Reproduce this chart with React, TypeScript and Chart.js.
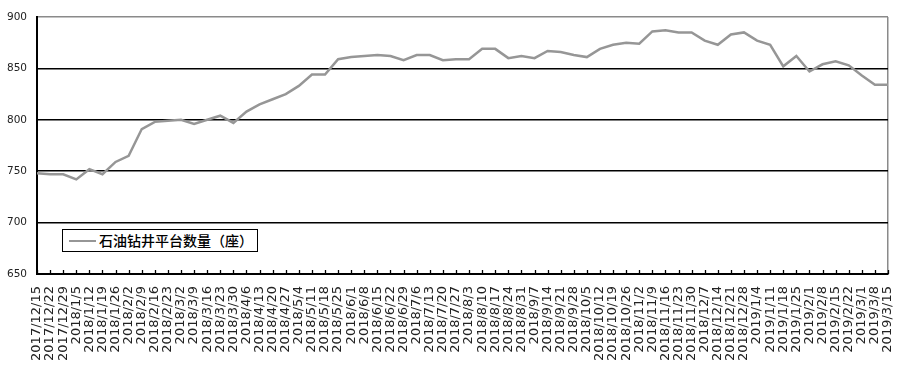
import React, { useEffect, useRef } from "react";
import { Chart, registerables } from "chart.js";

Chart.register(...registerables);

const dateLabels: string[] = [
  "2017/12/15", "2017/12/22", "2017/12/29", "2018/1/5", "2018/1/12", "2018/1/19", "2018/1/26",
  "2018/2/2", "2018/2/9", "2018/2/16", "2018/2/23", "2018/3/2", "2018/3/9", "2018/3/16",
  "2018/3/23", "2018/3/30", "2018/4/6", "2018/4/13", "2018/4/20", "2018/4/27", "2018/5/4",
  "2018/5/11", "2018/5/18", "2018/5/25", "2018/6/1", "2018/6/8", "2018/6/15", "2018/6/22",
  "2018/6/29", "2018/7/6", "2018/7/13", "2018/7/20", "2018/7/27", "2018/8/3", "2018/8/10",
  "2018/8/17", "2018/8/24", "2018/8/31", "2018/9/7", "2018/9/14", "2018/9/21", "2018/9/28",
  "2018/10/5", "2018/10/12", "2018/10/19", "2018/10/26", "2018/11/2", "2018/11/9", "2018/11/16",
  "2018/11/23", "2018/11/30", "2018/12/7", "2018/12/14", "2018/12/21", "2018/12/28", "2019/1/4",
  "2019/1/11", "2019/1/18", "2019/1/25", "2019/2/1", "2019/2/8", "2019/2/15", "2019/2/22",
  "2019/3/1", "2019/3/8", "2019/3/15",
];

const rigCounts: number[] = [
  748, 747, 747, 742, 752, 747, 759,
  765, 791, 798, 799, 800, 796, 800,
  804, 797, 808, 815, 820, 825, 833,
  844, 844, 859, 861, 862, 863, 862,
  858, 863, 863, 858, 859, 859, 869,
  869, 860, 862, 860, 867, 866, 863,
  861, 869, 873, 875, 874, 886, 887,
  885, 885, 877, 873, 883, 885, 877,
  873, 852, 862, 847, 854, 857, 853,
  843, 834, 834,
];

const seriesName = "石油钻井平台数量（座）";
const yMin = 650;
const yMax = 900;
const yStep = 50;

const innerTicks = {
  id: "innerTicks",
  afterDraw(chart: any) {
    const xs = chart.scales.x;
    const ctx = chart.ctx;
    const bottom = chart.chartArea.bottom;
    ctx.save();
    ctx.strokeStyle = "#000";
    ctx.lineWidth = 1.3;
    xs.ticks.forEach((_t: any, i: number) => {
      const px = Math.round(xs.getPixelForTick(i)) + 0.5;
      ctx.beginPath();
      ctx.moveTo(px, bottom);
      ctx.lineTo(px, bottom - 4);
      ctx.stroke();
    });
    ctx.restore();
  },
};

export default function App() {
  const ref = useRef<HTMLCanvasElement | null>(null);

  useEffect(() => {
    if (!ref.current) return;
    const lastIdx = dateLabels.length - 1;
    const chart = new Chart(ref.current, {
      type: "line",
      data: {
        labels: dateLabels,
        datasets: [
          {
            label: seriesName,
            data: rigCounts,
            borderColor: "#969696",
            borderWidth: 2.5,
            pointRadius: 0,
            tension: 0,
            fill: false,
          },
        ],
      },
      options: {
        animation: false,
        responsive: true,
        maintainAspectRatio: false,
        layout: { padding: { top: 17, right: 12, bottom: 0, left: 0 } },
        plugins: {
          legend: { display: false },
          tooltip: { enabled: false },
        },
        scales: {
          x: {
            offset: false,
            afterFit: (s: any) => {
              s.height = 97;
              s.paddingLeft = 0;
              s.paddingRight = 0;
            },
            grid: {
              drawTicks: false,
              drawOnChartArea: true,
              color: (c: any) => (c.index === lastIdx ? "#8a8a8a" : "rgba(0,0,0,0)"),
              lineWidth: 1.5,
            },
            border: { display: true, color: "#000", width: 2 },
            ticks: {
              autoSkip: false,
              minRotation: 90,
              maxRotation: 90,
              padding: 12,
              color: "#222",
              font: { family: "'DejaVu Sans', sans-serif", size: 13 },
            },
          },
          y: {
            min: yMin,
            max: yMax,
            afterFit: (s: any) => {
              s.width = 37;
            },
            grid: {
              drawTicks: false,
              color: (c: any) => (c.tick && c.tick.value === yMax ? "#8a8a8a" : "#000"),
              lineWidth: 1.5,
            },
            border: { display: true, color: "#000", width: 2 },
            ticks: {
              stepSize: yStep,
              padding: 10,
              color: "#222",
              font: { family: "'DejaVu Sans', sans-serif", size: 10.5 },
            },
          },
        },
      },
      plugins: [innerTicks],
    });
    return () => chart.destroy();
  }, []);

  return (
    <div style={{ position: "absolute", left: 0, top: 0, width: 900, height: 371, background: "#fff" }}>
      <canvas ref={ref} />
      <div
        style={{
          position: "absolute",
          left: 62,
          top: 229,
          width: 194,
          height: 21,
          border: "1px solid #000",
          background: "#fff",
          display: "flex",
          alignItems: "center",
          fontFamily: "'Noto Sans CJK SC', sans-serif",
          fontSize: 14,
          fontWeight: 500,
          color: "#000",
          whiteSpace: "nowrap",
        }}
      >
        <span style={{ display: "inline-block", width: 27, height: 0, borderTop: "2.5px solid #969696", marginLeft: 6, marginRight: 3 }} />
        <span style={{ lineHeight: "21px" }}>{seriesName}</span>
      </div>
    </div>
  );
}
